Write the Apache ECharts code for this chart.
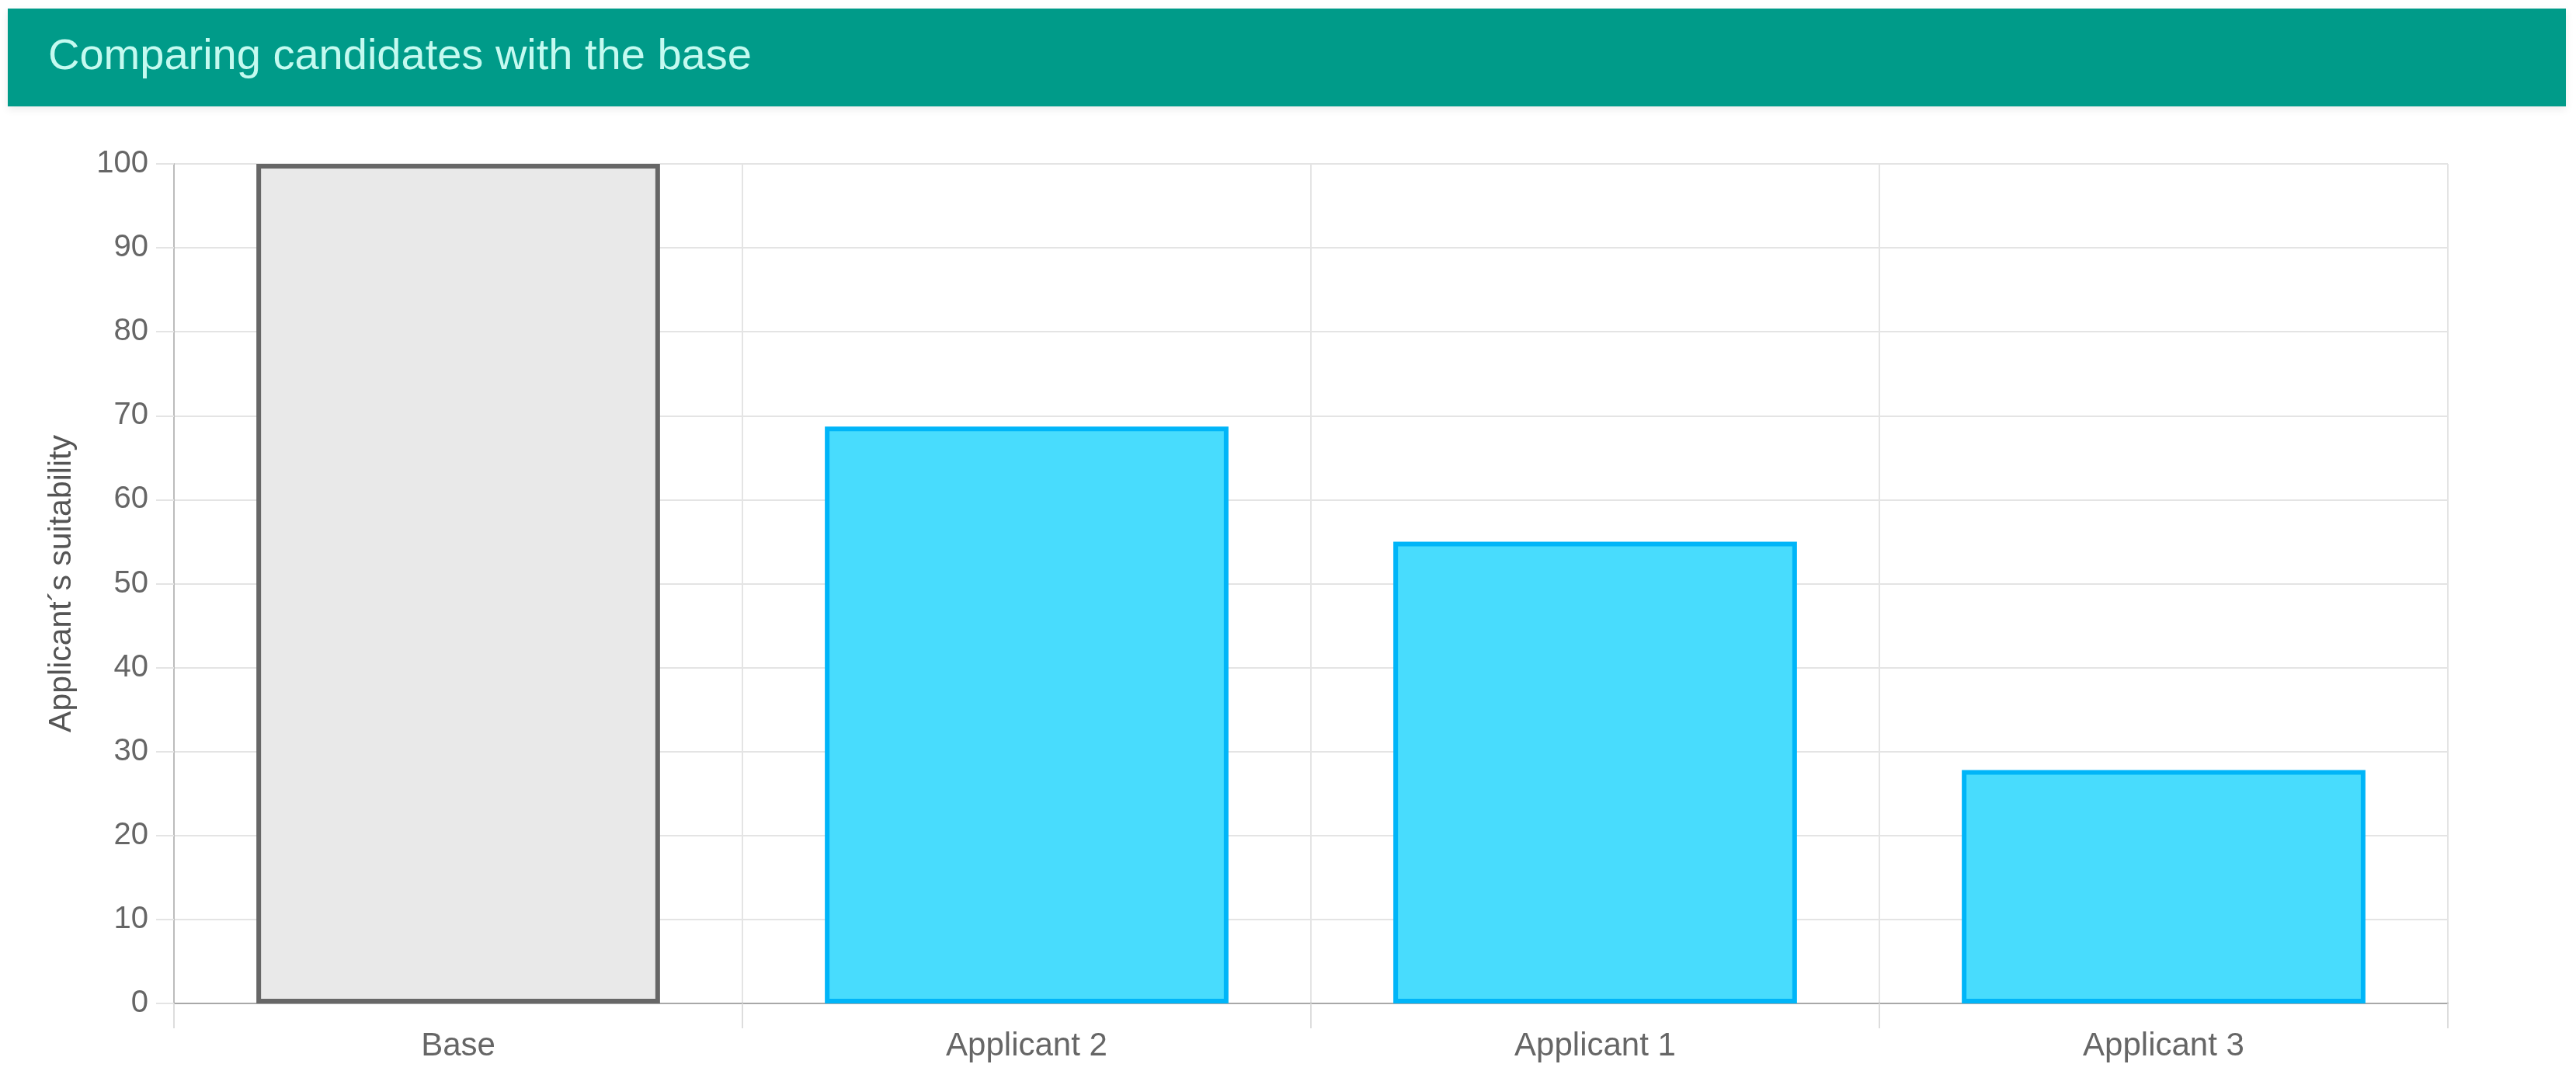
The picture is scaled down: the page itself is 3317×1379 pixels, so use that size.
<!DOCTYPE html>
<html>
<head>
<meta charset="utf-8">
<title>Comparing candidates with the base</title>
<script src="https://cdn.jsdelivr.net/npm/echarts@6/dist/echarts.min.js"></script>
<style>
  html, body { margin: 0; padding: 0; background: #fff; }
  #chart { width: 3317px; height: 1379px; }
</style>
</head>
<body>
<div id="chart"></div>
<script>
var titleText = 'Comparing candidates with the base';
var yAxisName = 'Applicant\u00b4s suitability';
var categories = ['Base', 'Applicant 2', 'Applicant 1', 'Applicant 3'];
var suitability = [100, 68.7, 55, 27.8];
var yTicks = [0, 10, 20, 30, 40, 50, 60, 70, 80, 90, 100];

var baseStyle = { color: '#e9e9e9', borderColor: '#676767', borderWidth: 6 };
var applicantStyle = { color: '#48dcfd', borderColor: '#00b5f8', borderWidth: 6 };

var chart = echarts.init(document.getElementById('chart'));

// base bar is grey, applicants are cyan
var barData = suitability.map(function (v, i) {
  return {
    value: v,
    itemStyle: categories[i] === 'Base' ? baseStyle : applicantStyle
  };
});

chart.setOption({
  animation: false,
  backgroundColor: '#ffffff',
  textStyle: { fontFamily: 'Liberation Sans, Arial, Helvetica, sans-serif' },
  graphic: [
    {
      type: 'rect',
      left: 10,
      top: 11,
      shape: { width: 3294, height: 126 },
      style: {
        fill: '#009b89',
        shadowBlur: 10,
        shadowOffsetY: 4,
        shadowColor: 'rgba(0,0,0,0.08)'
      },
      z: -1
    }
  ],
  title: {
    text: titleText,
    left: 57,
    top: 41,
    textStyle: {
      color: '#c4faf0',
      fontSize: 56,
      fontWeight: 'normal',
      fontFamily: 'Liberation Sans, Arial, Helvetica, sans-serif'
    }
  },
  grid: {
    left: 224,
    right: 165,
    top: 211,
    bottom: 87,
    containLabel: false
  },
  xAxis: {
    type: 'category',
    data: categories,
    boundaryGap: true,
    axisLine: { show: true, lineStyle: { color: '#a8a8a8', width: 2 } },
    axisTick: { show: true, length: 32, lineStyle: { color: '#dddddd', width: 2 } },
    splitLine: { show: true, lineStyle: { color: '#e4e4e4', width: 2 } },
    axisLabel: { color: '#666666', fontSize: 42, margin: 34 }
  },
  yAxis: {
    type: 'value',
    min: yTicks[0],
    max: yTicks[yTicks.length - 1],
    interval: yTicks[1] - yTicks[0],
    name: yAxisName,
    nameLocation: 'middle',
    nameGap: 124,
    nameRotate: 90,
    nameTextStyle: { color: '#555555', fontSize: 41 },
    axisLine: { show: true, lineStyle: { color: '#bcbcbc', width: 2 } },
    axisTick: { show: true, length: 23, lineStyle: { color: '#e4e4e4', width: 2 } },
    splitLine: { show: true, lineStyle: { color: '#e4e4e4', width: 2 } },
    axisLabel: { color: '#666666', fontSize: 40, margin: 33 }
  },
  series: [
    {
      type: 'bar',
      data: barData,
      barWidth: '71%'
    }
  ]
});
</script>
</body>
</html>
